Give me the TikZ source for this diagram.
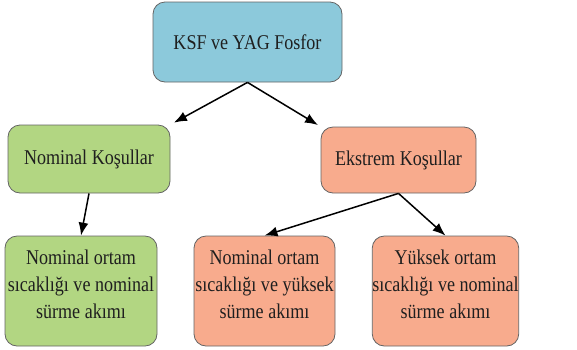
\documentclass[tikz,border=0pt]{standalone}
\usepackage{fontspec}
\setmainfont{Liberation Serif}[FakeStretch=0.86]
\usetikzlibrary{arrows.meta,positioning}

\definecolor{fosforblue}{RGB}{140,201,219}
\definecolor{nomgreen}{RGB}{178,214,130}
\definecolor{ekssalmon}{RGB}{248,171,141}
\definecolor{boxline}{RGB}{100,100,100}

\begin{document}
\begin{tikzpicture}[
    x=1pt, y=-1pt,
    every node/.style={font=\fontsize{21}{27}\selectfont, text=black!88},
    box/.style={draw=boxline, line width=0.8pt, rounded corners=12pt, align=center, inner sep=0pt},
    rootbox/.style={box, fill=fosforblue, minimum width=189pt, minimum height=80pt},
    nombox/.style={box, fill=nomgreen},
    eksbox/.style={box, fill=ekssalmon},
    leafbox/.style={minimum height=110pt, text depth=14pt},
    arrow/.style={-{Latex[length=13pt, width=10pt]}, line width=1.5pt}
]
\useasboundingbox (0,0) rectangle (577,349);

% Top: the phosphor pair
\node[rootbox] (fosfor) at (247.5,42) {KSF ve YAG Fosfor};

% Middle row: condition groups
\node[nombox, minimum width=162pt, minimum height=68pt] (nominal) at (89,159) {Nominal Koşullar};
\node[eksbox, minimum width=155pt, minimum height=66pt] (ekstrem) at (398.5,160) {Ekstrem Koşullar};

% Bottom row: test cases
\node[nombox, leafbox, minimum width=152pt] (nomnom) at (81,291)
    {Nominal ortam\\sıcaklığı ve nominal\\sürme akımı};
\node[eksbox, leafbox, minimum width=141pt] (nomyuk) at (264.5,291)
    {Nominal ortam\\sıcaklığı ve yüksek\\sürme akımı};
\node[eksbox, leafbox, minimum width=135pt] (yuknom) at (445.5,291)
    {Yüksek ortam\\sıcaklığı ve nominal\\sürme akımı};

% Connectors
\draw[arrow, shorten >=4pt] (fosfor.south) -- (nominal.north east);
\draw[arrow, shorten >=3pt] (fosfor.south) -- (ekstrem.north west);
\draw[arrow] (nominal.south) -- (nomnom.north);
\draw[arrow] (ekstrem.south) -- (nomyuk.north);
\draw[arrow] (ekstrem.south) -- (yuknom.north);

\end{tikzpicture}
\end{document}
